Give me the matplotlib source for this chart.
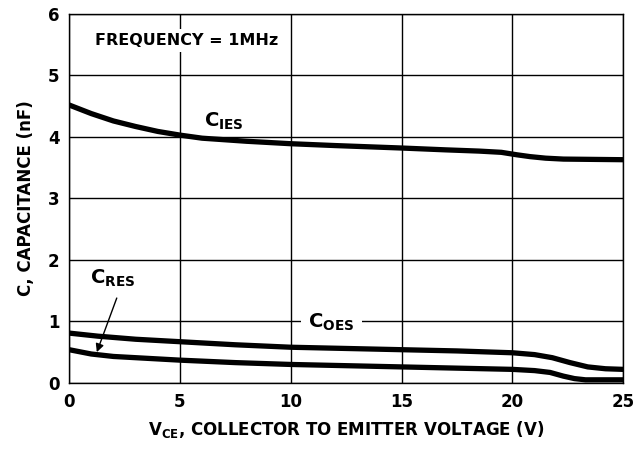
import matplotlib
matplotlib.use("Agg")
import matplotlib.pyplot as plt

# ── Data ─────────────────────────────────────────────────────────────────────
vce_ies = [0, 0.5, 1, 2, 3, 4, 5, 6, 8, 10, 12, 15, 17, 18.5, 19.5, 20.2, 20.8, 21.5, 22.3, 25]
c_ies = [4.52, 4.45, 4.38, 4.26, 4.17, 4.09, 4.03, 3.98, 3.93, 3.89, 3.86, 3.82,
         3.79, 3.77, 3.75, 3.71, 3.68, 3.655, 3.64, 3.63]

vce_oes = [0, 1.3, 3, 5, 7.5, 10, 12.5, 15, 17.5, 20, 21, 21.8, 22.6, 23.4, 24.2, 25]
c_oes = [0.81, 0.76, 0.71, 0.67, 0.62, 0.58, 0.56, 0.54, 0.52, 0.49, 0.46, 0.41,
         0.33, 0.26, 0.23, 0.22]

vce_res = [0, 1, 2, 3, 5, 7.5, 10, 12.5, 15, 17.5, 20, 21, 21.7, 22.3, 22.8, 23.3, 25]
c_res = [0.54, 0.47, 0.43, 0.41, 0.37, 0.33, 0.30, 0.28, 0.26, 0.24, 0.22, 0.20,
         0.17, 0.11, 0.07, 0.05, 0.05]

x_ticks = [0, 5, 10, 15, 20, 25]
y_ticks = [0, 1, 2, 3, 4, 5, 6]

FONT = "DejaVu Sans"
plt.rcParams["font.family"] = [FONT]
plt.rcParams["font.weight"] = "bold"
plt.rcParams["mathtext.fontset"] = "custom"
plt.rcParams["mathtext.rm"] = FONT + ":bold"
plt.rcParams["mathtext.bf"] = FONT + ":bold"
plt.rcParams["mathtext.it"] = FONT + ":bold"

fig = plt.figure(figsize=(6.34, 4.51), dpi=100)
ax = fig.add_axes([0.109, 0.151, 0.874, 0.818])

ax.set_xlim(0, 25)
ax.set_ylim(0, 6)
ax.set_xticks(x_ticks)
ax.set_yticks(y_ticks)
ax.tick_params(length=0, pad=7, labelsize=12)
for lbl in ax.get_xticklabels() + ax.get_yticklabels():
    lbl.set_fontweight("bold")
ax.grid(True, color="black", lw=1.0)
ax.set_axisbelow(True)
for s in ax.spines.values():
    s.set_linewidth(1.0)

curve = dict(color="black", lw=3.8, solid_capstyle="butt", solid_joinstyle="round", zorder=3)
ax.plot(vce_ies, c_ies, **curve)
ax.plot(vce_oes, c_oes, **curve)
ax.plot(vce_res, c_res, **curve)

# ── Annotations ──────────────────────────────────────────────────────────────
sub = dict(fontsize=14, va="center", zorder=4)
ax.text(1.15, 5.57, "FREQUENCY = 1MHz", fontsize=11.5, fontweight="bold", va="center",
        bbox=dict(facecolor="white", edgecolor="none", pad=3), zorder=4)
ax.text(6.1, 4.25, r"$\mathbf{C}_{\mathbf{IES}}$", **sub)
ax.text(10.8, 0.98, r"$\mathbf{C}_{\mathbf{OES}}$",
        bbox=dict(facecolor="white", edgecolor="none", pad=5), **sub)
ax.text(0.95, 1.7, r"$\mathbf{C}_{\mathbf{RES}}$", **sub)
ax.annotate("", xy=(1.25, 0.5), xytext=(2.15, 1.38),
            arrowprops=dict(arrowstyle="-|>", color="black", lw=1.0,
                            mutation_scale=12, shrinkA=0, shrinkB=0), zorder=5)

ax.set_xlabel(r"$\mathbf{V}_{\mathbf{CE}}$, COLLECTOR TO EMITTER VOLTAGE (V)",
              fontsize=12, fontweight="bold", labelpad=6)
ax.set_ylabel("C, CAPACITANCE (nF)", fontsize=12, fontweight="bold", labelpad=9)

fig.savefig("out.png", dpi=100)
